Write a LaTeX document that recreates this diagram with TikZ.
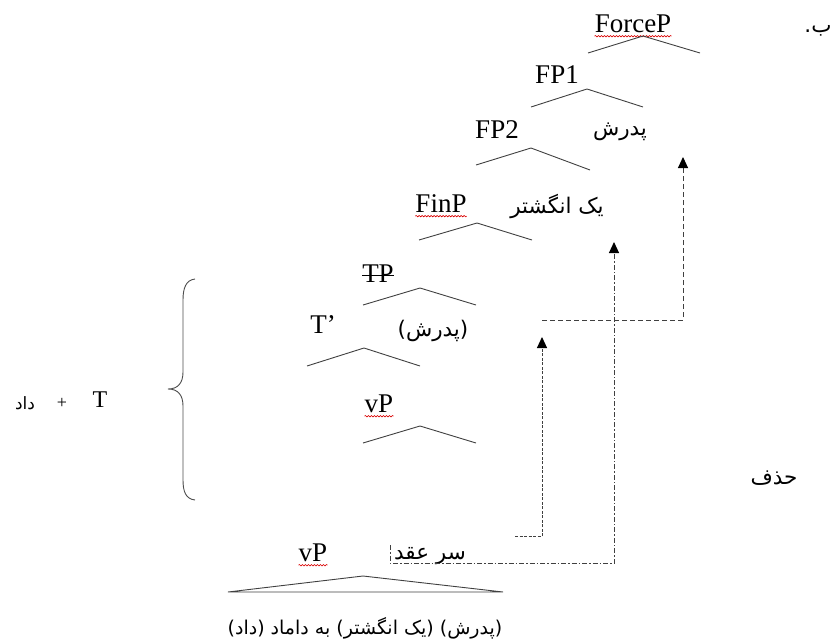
\documentclass[tikz,border=0pt]{standalone}
\usepackage{fontspec}
\setmainfont{Liberation Serif}
\newfontfamily\fa[Script=Arabic]{DejaVu Sans}
\TeXXeTstate=1
\usetikzlibrary{arrows.meta,decorations.pathmorphing}
\tikzset{
  lab/.style={inner sep=0pt,font=\fontsize{27}{30}\selectfont},
  fatext/.style={inner sep=0pt,font=\fa\fontsize{21.5}{26}\selectfont},
  branch/.style={draw=black!75,line width=0.9pt},
  wavy/.style={draw=red!85!black,line width=0.6pt,decorate,decoration={snake,amplitude=0.7pt,segment length=3pt}},
  movedash/.style={draw=black!75,line width=1pt,dash pattern=on 5pt off 3pt},
  movedot/.style={draw=black!75,line width=1pt,dash pattern=on 3pt off 1.5pt},
  movedashdot/.style={draw=black!75,line width=1pt,dash pattern=on 5pt off 2pt on 1.5pt off 2pt},
  tip/.style={-{Triangle[width=10pt,length=11pt,color=black,fill=black]}}
}
\begin{document}
\begin{tikzpicture}[x=1pt,y=-1pt]
\useasboundingbox (0,0) rectangle (837,642);
% labels
\node[lab] (forceP) at (633,24) {ForceP};
\node[lab] (fp1) at (557,75) {FP1};
\node[lab] (fp2) at (497,130) {FP2};
\node[lab] (finP) at (441,204) {FinP};
\node[lab] (tp) at (378,274) {TP};
\node[lab] (tbar) at (323,325) {T’};
\node[lab] (vp) at (379,404) {vP};
\node[lab] (vp2) at (313,553) {vP};
\node[lab,font=\fontsize{24}{28}\selectfont] (T) at (100,400) {T};
\node[inner sep=0pt,font=\fontsize{18}{20}\selectfont] (plus) at (62,403) {+};
% persian texts
\node[fatext] (be) at (818,31) {ب.};
\node[fatext] (padar1) at (620,132) {\beginR پدرش\endR};
\node[fatext] (angosh) at (557,206) {\beginR یک انگشتر\endR};
\node[fatext] (padar2) at (433,331) {\beginR (پدرش)\endR};
\node[fatext,font=\fa\fontsize{17}{20}\selectfont] (dad) at (25,403) {\beginR داد\endR};
\node[fatext] (hazf) at (774,478) {\beginR حذف\endR};
\node[fatext] (sar) at (430,556) {\beginR سر عقد\endR};
\node[fatext,font=\fa\fontsize{19}{23}\selectfont] (sent) at (365,628) {\beginR (پدرش) (یک انگشتر) به داماد (داد)\endR};
% spell-check underlines and strike
\draw[wavy] ([yshift=-3pt]forceP.south west) -- ([yshift=-3pt]forceP.south east);
\draw[wavy] ([yshift=-3pt]finP.south west) -- ([yshift=-3pt]finP.south east);
\draw[wavy] ([yshift=-3pt]vp.south west) -- ([yshift=-3pt]vp.south east);
\draw[wavy] ([yshift=-3pt]vp2.south west) -- ([yshift=-3pt]vp2.south east);
\draw[black,line width=0.9pt] ([yshift=-1.5pt]tp.west) -- ([yshift=-1.5pt]tp.east);
% tree branches
\coordinate (aF) at (643,36);
\coordinate (aF1) at (587,89);
\coordinate (aF2) at (531,148);
\coordinate (aFin) at (477,223);
\coordinate (aTP) at (420,288);
\coordinate (aTb) at (364,348);
\coordinate (avP) at (420,426);
\coordinate (avP2) at (363,576);
\draw[branch] (588,53) -- (aF) -- (700,53);
\draw[branch] (531,107) -- (aF1) -- (643,107);
\draw[branch] (476,165) -- (aF2) -- (590,170);
\draw[branch] (419,240) -- (aFin) -- (532,240);
\draw[branch] (363,305) -- (aTP) -- (476,305);
\draw[branch] (307,366) -- (aTb) -- (420,366);
\draw[branch] (363,443) -- (avP) -- (476,443);
\draw[branch] (228,592) -- (avP2) -- (503,592) -- cycle;
% brace
\draw[black!70,line width=0.9pt] (195,279) .. controls (186,280) and (183,288) .. (183,300)
  -- (183,372) .. controls (183,383) and (178,389) .. (168,389)
  .. controls (178,389) and (183,395) .. (183,406)
  -- (183,480) .. controls (183,492) and (186,499) .. (195,500);
% movement arrows
\coordinate (m1s) at (542,320);
\coordinate (m1c) at (683,320);
\coordinate (m1e) at (683,157);
\draw[movedash,tip] (m1s) -- (m1c) -- (m1e);
\coordinate (m2s) at (390,545);
\coordinate (m2a) at (390,563);
\coordinate (m2b) at (614,563);
\coordinate (m2e) at (614,242);
\draw[movedashdot,tip] (m2s) -- (m2a) -- (m2b) -- (m2e);
\coordinate (m3s) at (515,536);
\coordinate (m3c) at (542,536);
\coordinate (m3e) at (542,337);
\draw[movedot,tip] (m3s) -- (m3c) -- (m3e);
\end{tikzpicture}
\end{document}
